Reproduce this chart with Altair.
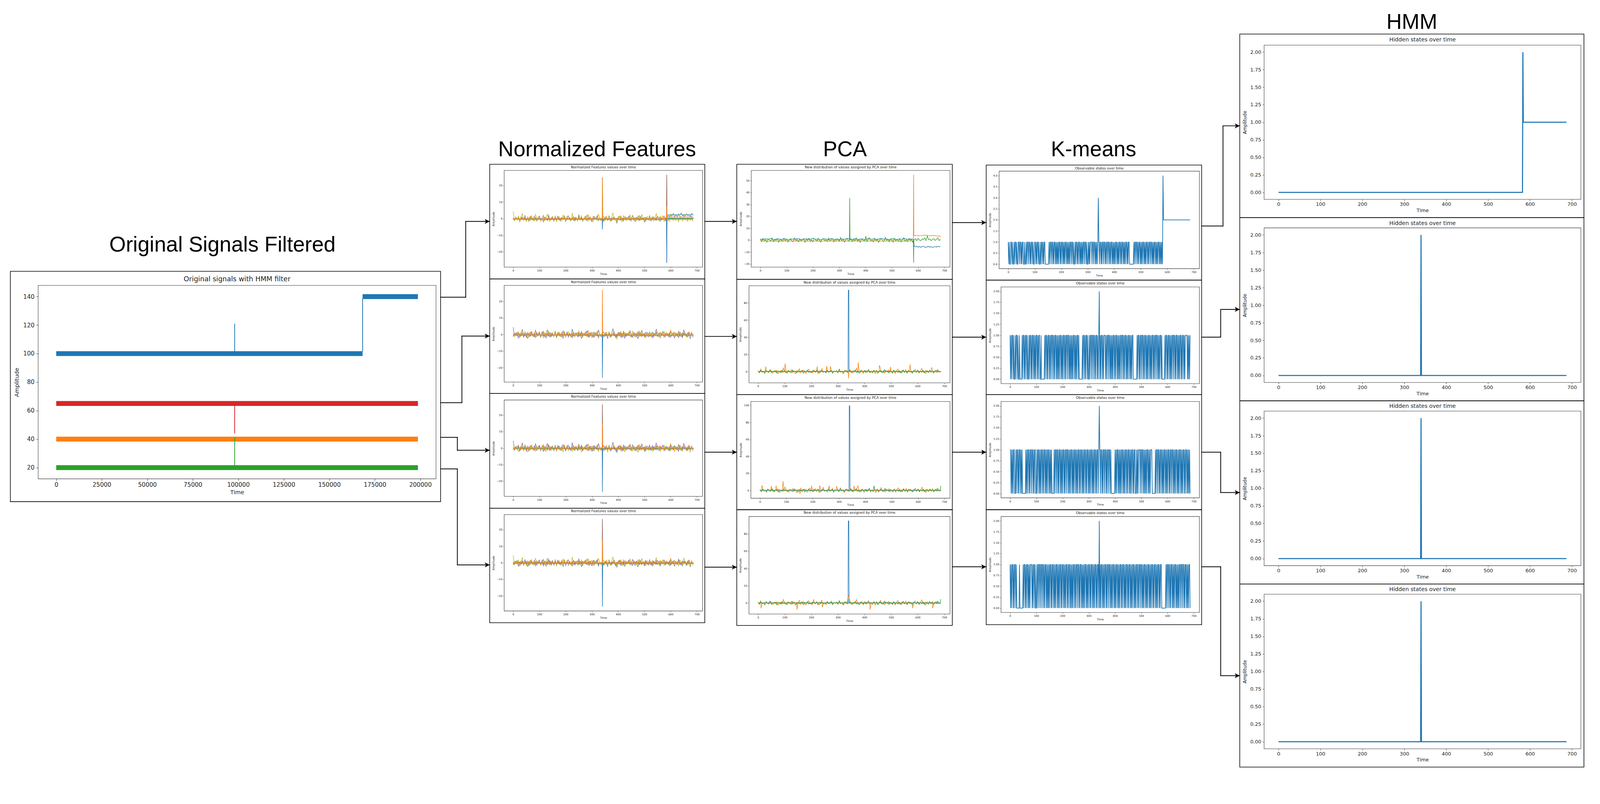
import altair as alt
import pandas as pd

# ============================ DATA ============================
TAB = {"blue": "#1f77b4", "orange": "#ff7f0e", "green": "#2ca02c", "red": "#d62728",
       "purple": "#9467bd", "brown": "#8c564b", "pink": "#e377c2", "gray": "#7f7f7f",
       "olive": "#bcbd22", "cyan": "#17becf"}

# ---- original filtered signals (sample index 0..198700) ----
orig_order = ["blue", "orange", "green", "red"]
orig_bands = {  # (t_start, t_end, band_low, band_high)
    "blue": [(0, 168300, 98.3, 101.7), (168300, 198700, 138.3, 141.7)],
    "orange": [(0, 198700, 38.3, 41.7)],
    "green": [(0, 198700, 18.3, 21.7)],
    "red": [(0, 198700, 63.3, 66.7)],
}
orig_spikes = [  # (series, t, from, to)
    ("blue", 98000, 101.5, 121.0),
    ("blue", 168300, 101.5, 138.5),
    ("green", 98000, 21.5, 41.0),
    ("red", 98000, 63.5, 44.0),
]
orig_xticks = [0, 25000, 50000, 75000, 100000, 125000, 150000, 175000, 200000]
orig_yticks = [20, 40, 60, 80, 100, 120, 140]

# ---- windowed feature panels: time steps 0..687 ----
T_LAST = 687
T5 = list(range(0, 690, 5))            # 0..685
T10 = list(range(0, 590, 10))          # 0..580
T20 = list(range(0, 700, 20))          # 0..680
T5_590 = list(range(590, 690, 5))      # 590..685
T5_585 = list(range(585, 690, 5))      # 585..685
T10_590 = list(range(590, 690, 10))    # 590..680

nf_a = [0.4,-1.2,1.1,-0.6,1.5,-1.8,0.3,0.9,-0.4,1.9,-1.1,0.2,-1.6,1.2,0.7,-0.9,1.4,-0.3,-1.4,0.8,
        1.7,-0.7,0.1,-1.9,1.0,0.5,-1.2,2.1,-0.5,-0.1,1.3,-1.5,0.6,-0.8,1.6,0.2,-1.3,0.9,-0.2,1.1,
        -1.7,0.4,1.8,-0.6,-1.0,0.7,1.2,-1.4,0.3,-0.9,2.3,-0.4,0.8,-1.6,0.5,1.4,-1.1,0.0,1.0,-0.7,
        -1.8,1.5,0.6,-0.3,1.9,-1.2,0.2,-0.8,1.3,-1.5,0.9,0.4,-1.0,1.7,-0.6,-1.3,0.7,1.1,-0.2,-2.6,
        0.5,1.6,-0.9,0.3,-1.4,1.2,0.8,-0.5,1.5,-1.1,0.1,2.0,-0.7,-1.6,0.9,0.4,-1.2,1.3,-0.3,0.6,
        -1.9,1.0,0.2,-0.8,1.8,-1.3,0.5,1.1,-0.6,-1.0,1.4,0.3,-1.5,0.7,-0.4,1.6,-1.2,0.9,0.0,-1.7,
        1.2,0.6,-0.9,1.5,-0.5,-1.1,2.2,0.4,-1.4,0.8,-0.2,1.0,-1.6,0.3,1.7,-0.8,0.5,-1.0]
nf_b = [4.5,-1.3,0.8,-0.9,1.6,-1.5,0.4,3.2,-1.0,0.6,-1.7,1.2,0.2,-1.1,1.9,-0.6,-1.4,2.6,0.3,-0.8,
        1.4,-1.6,0.5,1.1,-1.2,0.7,2.8,-0.5,-1.5,0.9,0.1,-1.0,1.7,-1.8,0.6,1.3,-0.7,-1.3,2.2,0.0,
        -1.1,1.5,-0.4,0.8,-1.6,3.4,-0.9,0.4,1.0,-1.4,0.7,-0.3,1.8,-1.2,0.2,-0.8,2.4,-1.5,0.5,1.2,
        -0.6,-1.7,1.4,0.3,-1.0,2.9,-0.2,-1.3,0.9,1.6,-1.1,0.4,-0.7,1.1,-1.6,0.6,3.6,-0.9,0.1,-1.4,
        1.3,-0.5,0.8,-1.8,1.9,0.2,-1.2,0.7,-0.4,2.5,-1.5,0.5,1.0,-0.8,-1.3,1.7,0.3,-1.0,2.7,-0.6,
        0.4,-1.7,1.2,0.8,-1.1,0.0,1.5,-1.4,0.6,3.1,-0.7,-1.2,0.9,-0.3,1.8,-1.6,0.5,1.1,-0.9,-1.5,
        2.3,0.2,-1.0,1.4,-0.6,0.7,-1.8,1.6,0.4,-1.2,3.0,-0.5,0.3,-1.4,1.0,-0.8,1.3,-1.7]
nf_c = [0.3,-0.6,0.9,-0.2,0.5,-0.8,1.2,-0.4,0.1,0.7,-0.9,0.4,-0.3,1.6,-0.5,0.2,-0.7,0.8,0.0,-0.4,
        0.6,-1.0,0.3,2.1,-0.6,0.5,-0.2,0.9,-0.8,0.1,0.4,-0.5,1.1,-0.3,0.7,-0.9,0.2,0.6,-0.4,1.8,
        -0.7,0.3,-0.1,0.8,-0.6,0.5,-1.1,0.9,0.2,-0.3,1.3,-0.8,0.4,0.0,-0.5,0.7,-0.2,2.4,-0.6,0.3,
        -0.9,0.6,0.1,-0.4,1.0,-0.7,0.5,-0.2,0.8,-1.0,0.3,1.5,-0.5,0.2,-0.8,0.6,-0.3,0.9,-0.6,0.4,
        0.1,-0.9,1.7,-0.4,0.5,-0.1,0.7,-0.7,0.3,1.2,-0.5,0.0,-0.8,0.6,0.2,-0.3,2.0,-0.6,0.4,-0.2,
        0.8,-1.0,0.5,-0.4,1.1,0.1,-0.7,0.6,-0.2,0.9,-0.5,0.3,1.4,-0.8,0.2,-0.3,0.7,-0.6,0.4,-0.1,
        2.6,-0.7,0.5,-0.4,0.8,-0.9,0.3,0.1,-0.5,1.0,-0.2,0.6,-0.8,0.4,1.3,-0.3,0.2,-0.6]
nf_d = [-1.2,0.8,-0.4,1.3,-2.1,0.5,-0.9,1.0,-1.6,0.3,0.9,-2.4,0.6,-0.5,1.4,-1.1,0.2,-1.8,1.1,-0.3,
        0.7,-1.4,1.6,-0.8,0.1,-2.0,0.9,-0.6,1.2,-1.3,0.4,-0.9,1.8,-1.7,0.3,0.6,-1.0,1.3,-2.2,0.5,
        -0.4,1.0,-1.5,0.8,-0.2,-1.9,1.4,-0.7,0.2,1.1,-1.2,0.6,-2.5,0.9,-0.1,1.5,-1.0,0.4,-1.6,0.7,
        1.2,-0.8,-1.4,0.5,1.7,-2.0,0.3,-0.6,1.0,-1.3,0.8,-0.3,-2.3,1.3,0.0,-1.1,0.6,1.6,-1.8,0.2,
        -0.7,1.1,-1.5,0.4,0.9,-2.1,0.7,-0.4,1.4,-1.0,0.1,-1.7,1.2,-0.5,0.8,-2.6,0.5,1.0,-1.2,0.3,
        -0.9,1.5,-0.6,-1.4,1.1,0.2,-1.9,0.8,-0.2,1.3,-1.1,0.6,-2.0,0.9,-0.5,1.6,-1.3,0.4,-0.8,1.0,
        -1.6,0.3,1.2,-2.2,0.7,-0.4,1.4,-1.0,0.5,-1.8,0.9,0.1,-1.3,1.1,-0.6,-2.4,0.8,-0.9]
nf_cyan = [-0.3,-0.2,-0.4,-0.3,-0.1,-0.3,-0.2,-0.4,-0.3,-0.2,-0.3,-0.1,-0.4,-0.2,-0.3,-0.3,-0.2,-0.1,
           -0.3,-0.4,-0.2,-0.3,-0.2,-0.3,-0.1,-0.3,-0.2,-0.4,-0.3,-0.2,-0.3,-0.2,-0.1,-0.3,-0.2]
nf_blue = [-0.4,-0.2,-0.5,-0.3,-0.4,-0.2,-0.3,-0.5,-0.4,-0.3,-0.2,-0.4,-0.3,-0.5,-0.2,-0.4,-0.3,-0.3,
           -0.5,-0.2,-0.4,-0.3,-0.4,-0.2,-0.5,-0.3,-0.4,-0.2,-0.3,-0.4,-0.5,-0.3,-0.2,-0.4,-0.3]
nf1_gray_after = [2.1,1.4,2.8,1.9,3.2,1.6,2.5,1.2,2.9,2.2,3.5,1.8,2.4,1.5,3.0,2.0,2.7,1.3,3.3,2.2]
nf1_orange_after = [-0.4,-0.6,-0.5,-0.3,-0.6,-0.5,-0.7,-0.4,-0.5,-0.6,-0.3,-0.5,-0.6,-0.4,-0.7,-0.5,-0.4,-0.6,-0.5,-0.7]
nf1_pink_after = [1.5,1.2,1.8,1.4,1.6,1.1,1.7,1.3,1.9,1.5,1.2,1.6,1.4,1.8,1.3,1.5,1.7,1.2,1.6,1.4]

pca_orange = [1.2,-1.5,3.1,-0.8,0.4,-2.2,1.8,-0.3,-1.1,2.5,0.6,-1.8,0.9,-0.5,1.6,-2.4,0.2,1.1,-1.3,4.2,
              -0.7,0.5,-1.9,1.4,-0.2,2.2,-1.2,0.8,-2.6,1.0,-0.4,3.3,-1.6,0.3,1.7,-0.9,-2.1,0.7,2.9,-0.6,
              0.1,-1.4,1.9,-0.3,0.9,-2.3,1.3,-0.8,3.6,-1.0,0.4,-1.7,1.5,0.2,-0.6,2.4,-2.0,0.8,-0.2,1.2,
              -1.5,3.0,-0.7,0.5,-2.5,1.6,-0.4,0.9,-1.2,2.1,0.3,-1.8,1.1,-0.5,4.0,-1.3,0.6,-0.9,1.8,-2.2,
              0.2,1.4,-0.8,2.7,-1.6,0.7,-0.3,1.0,-2.4,1.7,-0.6,0.4,3.4,-1.1,0.8,-1.9,1.3,-0.2,2.0,-1.4,
              0.5,-0.7,1.6,-2.1,0.9,3.1,-1.0,0.3,-1.6,1.2,-0.4,2.3,-2.0,0.6,1.5,-0.8,-1.3,0.7,2.6,-0.5,
              1.1,-1.7,0.4,3.8,-0.9,0.2,-2.3,1.4,-0.6,0.8,-1.1,2.2,-1.5,0.5,1.9,-0.7,0.3,-1.2]
pca_green = [0.8,-1.2,1.5,-0.6,0.3,-1.7,1.1,0.2,-0.9,1.8,-1.4,0.5,-0.3,1.3,-1.9,0.7,0.0,-1.1,1.6,-0.5,
             0.9,-1.6,0.4,1.2,-0.8,-1.3,1.9,-0.2,0.6,-1.5,1.0,-0.7,0.3,1.4,-1.8,0.8,-0.4,1.7,-1.0,0.1,
             -1.4,1.2,0.5,-0.9,1.6,-0.3,-1.7,0.7,1.1,-0.6,0.2,-1.2,1.8,-0.8,0.4,1.3,-1.5,0.6,-0.1,1.0,
             -1.1,2.3,-0.5,0.8,-1.6,0.3,1.5,-0.9,0.0,1.2,-1.3,0.7,-0.4,1.9,-1.0,0.5,-1.8,1.1,0.2,-0.7,
             1.4,-1.2,0.6,2.1,-0.8,0.3,-1.5,1.7,-0.2,0.9,-1.9,0.4,1.3,-0.6,-1.1,2.4,-0.3,0.8,-1.4,1.0,
             0.1,-1.7,1.6,-0.5,0.7,-1.0,1.2,-1.6,0.4,2.0,-0.9,0.2,-1.3,1.5,-0.4,0.6,-1.8,1.1,0.3,-0.8,
             1.7,-1.1,0.5,-0.6,1.4,-1.5,0.9,0.2,-1.2,1.8,-0.3,0.6,-1.6,1.0,-0.7,2.2,-0.4,0.3]
pca1_blue_before = [0.9,0.4,1.2,0.6,1.5,0.3,0.8,1.1,0.5,1.3,0.7,0.2,1.0,0.6,1.4,0.8,0.4,1.1,0.9,0.5,
                    1.6,0.7,1.0,0.3,1.2,0.8,0.5,1.3,0.6,1.0,0.4,1.1,0.7,1.4,0.9,0.5,1.2,0.6,0.8,1.0,
                    0.3,1.3,0.7,1.1,0.5,0.9,1.5,0.6,1.0,0.4,1.2,0.8,0.6,1.1,0.7,1.3,0.5,0.9,0.8]
pca1_blue_after = [-5.0,-5.6,-5.3,-5.9,-5.4,-6.0,-5.5,-5.2,-5.8,-6.1,-5.6,-5.3,-5.9,-5.5,-6.2,-5.7,-5.4,-5.9,-5.1,-5.6,-5.3]
pca1_orange_before = [-0.6,-0.8,-0.7,-0.9,-0.6,-0.7,-0.8,-0.6,-0.7,-0.9,-0.7,-0.6,-0.8,-0.7,-0.6,
                      -0.8,-0.7,-0.9,-0.6,-0.7,-0.8,-0.7,-0.6,-0.8,-0.7,-0.6,-0.9,-0.7,-0.8,-0.7]
pca1_orange_after = [3.9,3.7,3.8,4.0,4.3,3.9,3.7,3.8,3.6,3.5]
pca1_green_after = [0.3,1.2,-0.4,1.6,0.2,-0.6,1.1,0.5,1.8,-0.3,3.5,0.4,1.0,-0.5,0.8,1.3,-0.2,0.6,2.0,-0.4,0.9]

# K-means observable states, one character per 2 time steps
km_states = [
    ("1010011010" "0101101001" "1011010110" "0100101101" "1010110100" "1101011010" "0101101011"
     "0000000101" "1011010110" "1010101101" "0110101011" "0101010110" "1101001011" "0101101010"
     "1011011010" "0101011101" "1011010101" "3101101011" "0110101101" "1010110101" "0101101010"
     "1101011010" "1011010110" "0000000101" "1011010110" "1010110101" "0110101101" "1010101101"
     "0101101010" "10" "4" "2222222222" "2222222222" "2222222222" "2222222222" "2222222222" "2"),
    ("1010110100" "1011010010" "0001011010" "1101001011" "0101101010" "1101011001" "0000001011"
     "0101101011" "0110101101" "0101011010" "1011010110" "1101010101" "0110101011" "0100000010"
     "1101011010" "0101101101" "1010110101" "2010110101" "1101011011" "0101010110" "1011010101"
     "0110110101" "1010101101" "0101100000" "0010110101" "1011010110" "1010110101" "0110101101"
     "1010101101" "0000010110" "1011010101" "1011010110" "1010110101" "1010111101" "0101"),
    ("1101010110" "0101101011" "0101000000" "1010110101" "1011010110" "0101101010" "1101011010"
     "1011010101" "0000101101" "1010110101" "0110101101" "1010101101" "0101101010" "1101011010"
     "1011010110" "1010110101" "0110101101" "2101101011" "0110101101" "1010000000" "1010110101"
     "0101101010" "1101011010" "1011010110" "0101011101" "1011010101" "0110101011" "1000000101"
     "1011010110" "1010110101" "0110101101" "1010101101" "0101101010" "1101011010" "1010"),
    ("1010110101" "1010000010" "0000010110" "1011010101" "1101011010" "0101101101" "1011010110"
     "1010101101" "0110101011" "0101011010" "1101010110" "1011010101" "0110101101" "1010110101"
     "0101101010" "1101011010" "1011010110" "2010110101" "0110101101" "1010101101" "0101101010"
     "1101011010" "1011010110" "1010110101" "0110101101" "1010101101" "0101101010" "1101011010"
     "1011010110" "0000000101" "1011010110" "1010110101" "0101101101" "1010110101" "0110"),
]
hmm_points = [
    {0: 0, 582: 0, 583: 2, 584: 1, 687: 1},
    {0: 0, 339: 0, 340: 2, 341: 0, 687: 0},
    {0: 0, 339: 0, 340: 2, 341: 0, 687: 0},
    {0: 0, 339: 0, 340: 2, 341: 0, 687: 0},
]
feat_xticks = [0, 100, 200, 300, 400, 500, 600, 700]


# ============================ helpers ============================
def pts(ts, vs):
    return list(zip(ts, vs))


def build(*pieces):
    d = {}
    for p in pieces:
        for t, v in (p.items() if isinstance(p, dict) else p):
            d[t] = v
    return sorted(d.items())


def upto(p, tmax):
    return [(t, v) for t, v in p if t < tmax]


nf_panels = [
    [("green", build({0: 0.0, 339: 0.0, 340: 25.0, 341: 0.0, 687: 0.0})),
     ("brown", build({0: 0.0, 584: 0.0, 585: 26.5, 586: 0.5, 687: 0.5})),
     ("pink", build({0: 0.0, 584: 0.0, 585: -26.5, 586: 1.5}, pts(T5_590, nf1_pink_after))),
     ("blue", build(upto(pts(T20, nf_blue), 585),
                    {339: -0.3, 340: -6.5, 341: -0.3, 584: -0.3, 585: -26.5, 586: 0.3, 687: 0.3})),
     ("cyan", build(upto(pts(T20, nf_cyan), 585), {584: -0.3, 585: 2.5, 687: 2.5})),
     ("gray", build(upto(pts(T5, nf_a), 585), pts(T5_590, nf1_gray_after))),
     ("olive", build(pts(T5, nf_b))),
     ("orange", build(upto(pts(T5, nf_c), 585), {339: 0.2, 340: 24.5, 341: 0.2, 584: 0.1, 585: 7.5, 586: -0.5},
                      pts(T5_590, nf1_orange_after)))],
    [("blue", build(pts(T20, nf_blue), {339: -0.3, 340: -26.0, 341: -0.3, 687: -0.3})),
     ("cyan", build(pts(T20, nf_cyan), {687: -0.2})),
     ("purple", build(pts(T5, nf_d))),
     ("gray", build(pts(T5, nf_b))),
     ("olive", build(pts(T5, nf_a))),
     ("orange", build(pts(T5, nf_c), {339: 0.3, 340: 27.0, 341: 0.3}))],
    [("brown", build({0: 0.0, 339: 0.0, 340: 26.5, 341: 0.0, 687: 0.0})),
     ("blue", build(pts(T20, nf_blue), {339: -0.3, 340: -26.5, 341: -0.3, 687: -0.3})),
     ("cyan", build(pts(T20, nf_cyan), {687: -0.2})),
     ("purple", build(pts(T5, nf_b))),
     ("gray", build(pts(T5, nf_a))),
     ("olive", build(pts(T5, nf_d))),
     ("orange", build(pts(T5, nf_c), {339: 0.3, 340: 15.0, 341: 0.3}))],
    [("brown", build({0: 0.0, 339: 0.0, 340: 26.5, 341: 0.0, 687: 0.0})),
     ("blue", build(pts(T20, nf_blue), {339: -0.3, 340: -26.5, 341: -0.3, 687: -0.3})),
     ("cyan", build(pts(T20, nf_cyan), {687: -0.2})),
     ("purple", build(pts(T5, nf_a))),
     ("gray", build(pts(T5, nf_d))),
     ("olive", build(pts(T5, nf_b))),
     ("orange", build(pts(T5, nf_c), {339: 0.3, 340: 14.0, 341: 0.3}))],
]
pca_panels = [
    [("blue", build(pts(T10, pca1_blue_before), {583: 0.8}, pts(T5_585, pca1_blue_after))),
     ("orange", build(pts(T20[:30], pca1_orange_before), {582: -0.7, 583: 55.0, 584: 3.8},
                      pts(T10_590, pca1_orange_after), {687: 3.2})),
     ("green", build(upto(pts(T5, pca_green), 583),
                     {339: 0.2, 340: 35.5, 341: 0.2, 401: 3.5, 582: 0.1, 583: -19.0, 584: 0.4},
                     pts(T5_585, pca1_green_after)))],
    [("blue", build({0: 0.2, 338: 0.2, 339: 95.0, 341: 95.0, 342: 0.2, 687: 0.2})),
     ("orange", build(pts(T5, pca_orange), {29: 6.0, 101: 9.5, 222: 6.0, 258: 6.5, 272: 6.0, 339: -2.0,
                                            340: -8.0, 341: -1.0, 376: 10.5, 456: 7.5, 498: 5.5, 571: 8.5, 652: 5.0})),
     ("green", build(pts(T5, pca_green)))],
    [("blue", build({0: 0.2, 338: 0.2, 339: 99.5, 341: 99.5, 342: 0.2, 687: 0.2})),
     ("orange", build(pts(T5, pca_orange), {8: 6.0, 43: 5.0, 61: 5.5, 88: 11.0, 152: -4.0, 196: 5.5,
                                            227: 6.0, 263: 5.5, 291: 5.0, 357: 5.5, 372: 5.5})),
     ("green", build(pts(T5, pca_green), {433: 5.5, 686: 5.5}))],
    [("blue", build({0: 0.2, 338: 0.2, 339: 95.0, 341: 95.0, 342: 0.2, 687: 0.2})),
     ("orange", build(pts(T5, pca_orange), {11: -6.0, 146: -7.5, 209: 4.5, 241: -5.0, 339: 9.0, 340: 9.0,
                                            421: -7.5, 581: -6.0, 656: -6.0})),
     ("green", build(pts(T5, pca_green), {686: 4.5}))],
]
pca_yticks = [[-20, -10, 0, 10, 20, 30, 40, 50], [0, 20, 40, 60, 80], [0, 20, 40, 60, 80, 100], [0, 20, 40, 60, 80]]
km_panels = [[("blue", pts([2 * i for i in range(len(s))], [int(c) for c in s]))] for s in km_states]
km_yticks = [[0, 0.5, 1, 1.5, 2, 2.5, 3, 3.5, 4]] + [[0, 0.25, 0.5, 0.75, 1, 1.25, 1.5, 1.75, 2]] * 3
hmm_panels = [[("blue", build(p))] for p in hmm_points]
hmm_yticks = [0, 0.25, 0.5, 0.75, 1, 1.25, 1.5, 1.75, 2]

# ============================ LAYOUT (page pixels) ============================
OFF_X = 8      # page x of the drawing canvas origin
OFF_Y = 34     # page y of the drawing canvas origin (measured)
W, H = 4186, 2024
ORIG_BOX = (100, 749, 1145, 1257)
NF_BOXES = [(1324, 447, 1845, 701), (1324, 749, 1845, 1003), (1324, 1050, 1845, 1303), (1324, 1351, 1845, 1604)]
PCA_BOXES = [(1973, 447, 2495, 701), (1967, 750, 2495, 1005), (1972, 1054, 2495, 1308), (1967, 1356, 2495, 1612)]
KM_BOXES = [(2624, 449, 3150, 705), (2629, 753, 3150, 1007), (2629, 1054, 3150, 1307), (2629, 1356, 3150, 1608)]
HMM_BOXES = [(3320, 118, 4152, 523), (3320, 598, 4152, 1004), (3320, 1079, 4152, 1485), (3320, 1560, 4152, 1966)]
ORIG_FRAME = (27, 712, 1157, 1317)
COL_FRAMES = [((1286, 1851), [431, 732, 1033, 1334, 1635]),
              ((1935, 2501), [431, 733, 1036, 1338, 1642]),
              ((2590, 3156), [433, 735, 1036, 1338, 1640]),
              ((3256, 4160), [89, 571, 1052, 1533, 2014])]
CONNECTORS = [
    [(1157, 780), (1223, 780), (1223, 581), (1286, 581)],
    [(1157, 1057), (1213, 1057), (1213, 882), (1286, 882)],
    [(1157, 1148), (1201, 1148), (1201, 1182), (1286, 1182)],
    [(1157, 1231), (1201, 1231), (1201, 1483), (1286, 1483)],
    [(1851, 581), (1935, 581)], [(1851, 883), (1935, 883)], [(1851, 1187), (1935, 1187)], [(1851, 1489), (1935, 1489)],
    [(2501, 584), (2590, 584)], [(2501, 885), (2590, 885)], [(2501, 1187), (2590, 1187)], [(2501, 1488), (2590, 1488)],
    [(3156, 593), (3212, 593), (3212, 330), (3256, 330)],
    [(3156, 885), (3206, 885), (3206, 812), (3256, 812)],
    [(3156, 1187), (3206, 1187), (3206, 1293), (3256, 1293)],
    [(3156, 1488), (3206, 1488), (3206, 1774), (3256, 1774)],
]
HEADERS = [("Original Signals Filtered", 584, 660), ("Normalized Features", 1568, 410),
           ("PCA", 2219, 410), ("K-means", 2872, 410), ("HMM", 3708, 75)]

SMALL = dict(lab=7, titx=7.5, tity=7.5, tick=3, tw=0.7, lpx=2, lpy=2, tpx=2, tpy=4)
HMMS = dict(lab=13, titx=13, tity=12, tick=4, tw=0.9, lpx=3, lpy=4, tpx=3, tpy=7)
ORIGS = dict(lab=15.5, titx=15, tity=15, tick=5, tw=1, lpx=3, lpy=5, tpx=4, tpy=9)
FONT = "DejaVu Sans"


def cx(v):
    return v - OFF_X


def cy(v):
    return v - OFF_Y


def cbox(box):
    return cx(box[0]), cy(box[1]), cx(box[2]), cy(box[3])


def mpl_domain(lo, hi):
    pad = 0.05 * (hi - lo)
    return [lo - pad, hi + pad]


def axes(st, box, xticks, yticks, xfmt, yfmt):
    l, t, r, b = cbox(box)
    common = dict(labelFont=FONT, titleFont=FONT, labelFontSize=st["lab"], titleFontWeight="normal",
                  labelColor="#222", titleColor="#222", tickColor="#222", tickSize=st["tick"],
                  tickWidth=st["tw"], domain=False, grid=False, labelFlush=False, labelOverlap=False,
                  minExtent=0, maxExtent=400)
    xa = alt.Axis(orient="bottom", offset=b - H, values=xticks, format=xfmt, title="Time",
                  titleFontSize=st["titx"], labelPadding=st["lpx"], titlePadding=st["tpx"], **common)
    ya = alt.Axis(orient="left", offset=-l, values=yticks, format=yfmt, title="Amplitude",
                  titleFontSize=st["tity"], labelPadding=st["lpy"], titlePadding=st["tpy"], **common)
    return xa, ya


def line_panel(series, box, yticks, yfmt, st, lw):
    l, t, r, b = cbox(box)
    vals = [v for _, p in series for _, v in p]
    xs = alt.Scale(domain=mpl_domain(0, T_LAST), range=[l, r], nice=False, zero=False)
    ys = alt.Scale(domain=mpl_domain(min(vals), max(vals)), range=[b, t], nice=False, zero=False)
    xa, ya = axes(st, box, feat_xticks, yticks, "d", yfmt)
    layers = []
    for name, p in series:
        df = pd.DataFrame(p, columns=["t", "v"])
        layers.append(alt.Chart(df).mark_line(color=TAB[name], strokeWidth=lw).encode(
            x=alt.X("t:Q", scale=xs, axis=xa), y=alt.Y("v:Q", scale=ys, axis=ya)))
    return alt.layer(*layers)


def orig_panel():
    l, t, r, b = cbox(ORIG_BOX)
    xs = alt.Scale(domain=mpl_domain(0, 198700), range=[l, r], nice=False, zero=False)
    lows = [bd[2] for n in orig_order for bd in orig_bands[n]]
    highs = [bd[3] for n in orig_order for bd in orig_bands[n]]
    ys = alt.Scale(domain=mpl_domain(min(lows), max(highs)), range=[b, t], nice=False, zero=False)
    xa, ya = axes(ORIGS, ORIG_BOX, orig_xticks, orig_yticks, "d", "d")
    layers = []
    for name in orig_order:
        for (t0, t1, lo, hi) in orig_bands[name]:
            df = pd.DataFrame({"t": [t0, t1], "lo": [lo, lo], "hi": [hi, hi]})
            layers.append(alt.Chart(df).mark_area(color=TAB[name], opacity=1).encode(
                x=alt.X("t:Q", scale=xs, axis=xa), y=alt.Y("lo:Q", scale=ys, axis=ya), y2=alt.Y2("hi:Q")))
        for (nm, ts, a, bb) in orig_spikes:
            if nm != name:
                continue
            df = pd.DataFrame({"t": [ts], "a": [a], "b": [bb]})
            layers.append(alt.Chart(df).mark_rule(color=TAB[name], strokeWidth=2).encode(
                x=alt.X("t:Q", scale=xs, axis=xa), y=alt.Y("a:Q", scale=ys, axis=ya), y2=alt.Y2("b:Q")))
    return alt.layer(*layers)


# ---------------- decorations ----------------
def idx(f):
    return alt.X(f, scale=None, axis=None)


def idy(f):
    return alt.Y(f, scale=None, axis=None)


frames = [ORIG_FRAME]
for (x0, x1), ys_ in COL_FRAMES:
    for i in range(4):
        frames.append((x0, ys_[i], x1, ys_[i + 1]))
frames_df = pd.DataFrame([dict(zip(["x", "y", "x2", "y2"], cbox(f))) for f in frames])
all_boxes = [ORIG_BOX] + NF_BOXES + PCA_BOXES + KM_BOXES + HMM_BOXES
spines_df = pd.DataFrame([dict(zip(["x", "y", "x2", "y2"], cbox(f))) for f in all_boxes])
segs = []
for poly in CONNECTORS:
    for (x1, y1), (x2, y2) in zip(poly[:-1], poly[1:]):
        segs.append(dict(x=cx(x1), y=cy(y1), x2=cx(x2), y2=cy(y2)))
segs_df = pd.DataFrame(segs)
heads_df = pd.DataFrame([dict(x=cx(p[-1][0]), y=cy(p[-1][1])) for p in CONNECTORS])
headers_df = pd.DataFrame([dict(label=s, x=cx(x), y=cy(y)) for s, x, y in HEADERS])

titles = [("Original signals with HMM filter", (ORIG_BOX[0] + ORIG_BOX[2]) / 2, 733, 18)]
for i in range(4):
    titles.append(("Normalized Features values over time", (NF_BOXES[i][0] + NF_BOXES[i][2]) / 2, COL_FRAMES[0][1][i] + 8, 9))
    titles.append(("New distribution of values assigned by PCA over time", (PCA_BOXES[i][0] + PCA_BOXES[i][2]) / 2, COL_FRAMES[1][1][i] + 8, 9))
    titles.append(("Observable states over time", (KM_BOXES[i][0] + KM_BOXES[i][2]) / 2, COL_FRAMES[2][1][i] + 8.5, 9))
    titles.append(("Hidden states over time", (HMM_BOXES[i][0] + HMM_BOXES[i][2]) / 2, COL_FRAMES[3][1][i] + 15, 14.5))
titles_df = pd.DataFrame([dict(label=s, x=cx(x), y=cy(y), fs=f) for s, x, y, f in titles])

deco = [
    alt.Chart(frames_df).mark_rect(fillOpacity=0, stroke="black", strokeWidth=1.6).encode(
        x=idx("x:Q"), x2="x2:Q", y=idy("y:Q"), y2="y2:Q"),
    alt.Chart(spines_df).mark_rect(fillOpacity=0, stroke="#3a3a3a", strokeWidth=1.1).encode(
        x=idx("x:Q"), x2="x2:Q", y=idy("y:Q"), y2="y2:Q"),
    alt.Chart(segs_df).mark_rule(color="black", strokeWidth=2, strokeCap="square").encode(
        x=idx("x:Q"), x2="x2:Q", y=idy("y:Q"), y2="y2:Q"),
    alt.Chart(heads_df).mark_point(shape="M0,0L-2,-1L-1.5,0L-2,1Z", filled=True, size=169,
                                   color="black", opacity=1, strokeWidth=0).encode(x=idx("x:Q"), y=idy("y:Q")),
    alt.Chart(headers_df).mark_text(font="Liberation Sans", fontSize=56, align="center",
                                    baseline="alphabetic", color="black").encode(
        x=idx("x:Q"), y=idy("y:Q"), text="label:N"),
    alt.Chart(titles_df).mark_text(font=FONT, align="center", baseline="middle", color="#222").encode(
        x=idx("x:Q"), y=idy("y:Q"), text="label:N", size=alt.Size("fs:Q", scale=None, legend=None)),
]

panels = [orig_panel()]
for i in range(4):
    panels.append(line_panel(nf_panels[i], NF_BOXES[i], [-20, -10, 0, 10, 20], "d", SMALL, 1.4))
    panels.append(line_panel(pca_panels[i], PCA_BOXES[i], pca_yticks[i], "d", SMALL, 1.4))
    panels.append(line_panel(km_panels[i], KM_BOXES[i], km_yticks[i], ".1f" if i == 0 else ".2f", SMALL, 1.8))
    panels.append(line_panel(hmm_panels[i], HMM_BOXES[i], hmm_yticks, ".2f", HMMS, 2.8))

chart = alt.layer(*deco, *panels).resolve_scale(x="independent", y="independent").properties(
    width=W, height=H, padding=0, autosize=alt.AutoSizeParams(type="none"), background="white"
).configure_view(strokeWidth=0)

chart.save("out.html", embed_options={"renderer": "svg", "actions": False})
